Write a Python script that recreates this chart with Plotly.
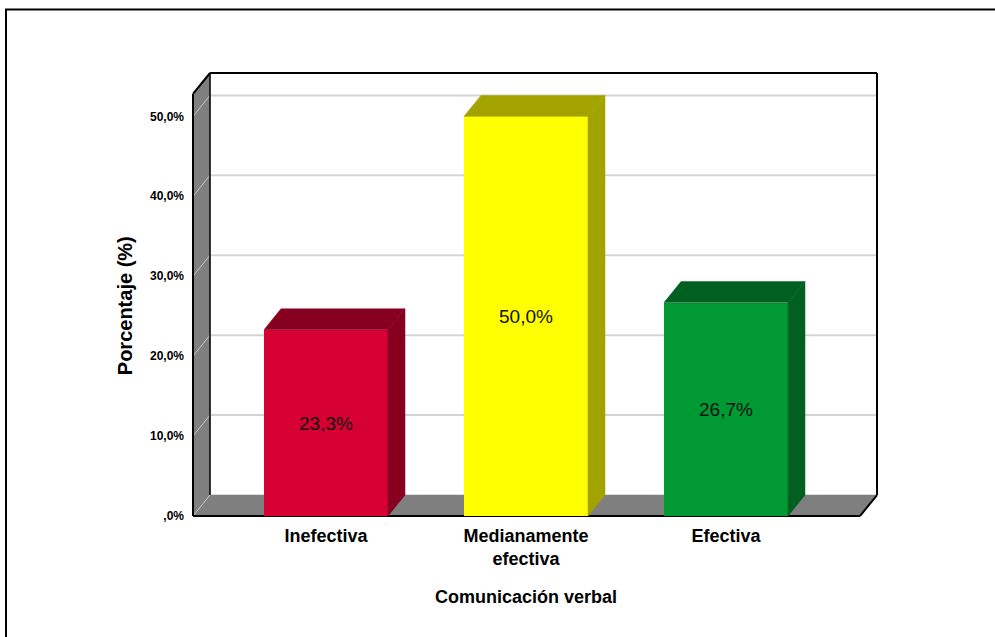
import plotly.graph_objects as go

# ---- data ----
categories = ["Inefectiva", "Medianamente<br>efectiva", "Efectiva"]
values = [23.3, 50.0, 26.7]
value_labels = ["23,3%", "50,0%", "26,7%"]
y_tickvals = [0, 10, 20, 30, 40, 50]
y_ticktext = [",0%", "10,0%", "20,0%", "30,0%", "40,0%", "50,0%"]
front_colors = ["#d60032", "#ffff00", "#009933"]
dark_colors = ["#870020", "#a3a300", "#006022"]

# ---- 3D box geometry (data units) ----
BAR_W = 0.62
DX = 0.085      # depth offset in x
DY = 2.625      # depth offset in y (%)
X0F = -0.665    # front-left edge
X1F = 2.67      # front-right edge
HT = 52.8       # wall top at front plane
WALL = "#7f7f7f"
GRID = "#d4d4d4"

fig = go.Figure()
shapes = []

def path_of(xs, ys):
    return "M " + " L ".join(f"{x},{y}" for x, y in zip(xs, ys)) + " Z"

def poly_shape(xs, ys, fill):
    shapes.append(dict(type="path", xref="x", yref="y", path=path_of(xs, ys),
                       fillcolor=fill, line=dict(color=fill, width=0.5), layer="below"))

def line_shape(x0, y0, x1, y1, color, w):
    shapes.append(dict(type="line", xref="x", yref="y", x0=x0, y0=y0, x1=x1, y1=y1,
                       line=dict(color=color, width=w), layer="below"))

# back wall (white)
poly_shape([X0F + DX, X1F + DX, X1F + DX, X0F + DX], [DY, DY, HT + DY, HT + DY], "white")
# left side wall
poly_shape([X0F, X0F, X0F + DX, X0F + DX], [0, HT, HT + DY, DY], WALL)
# floor
poly_shape([X0F, X1F, X1F + DX, X0F + DX], [0, 0, DY, DY], WALL)

# gridlines on back wall and side wall
for v in y_tickvals:
    if v > 0:
        line_shape(X0F + DX, v + DY, X1F + DX, v + DY, GRID, 2)
    line_shape(X0F, v, X0F + DX, v + DY, "#c8c8c8", 1)

# frame outlines
line_shape(X0F, 0, X0F, HT, "black", 2)
line_shape(X0F, HT, X0F + DX, HT + DY, "black", 2)
line_shape(X0F + DX, HT + DY, X1F + DX, HT + DY, "black", 2)
line_shape(X1F + DX, HT + DY, X1F + DX, DY, "black", 2)
line_shape(X0F + DX, DY, X0F + DX, HT + DY, "black", 1.5)
line_shape(X0F, 0, X1F, 0, "black", 2)
line_shape(X1F, 0, X1F + DX, DY, "black", 2)

# bars: front faces
fig.add_trace(go.Bar(
    x=list(range(len(categories))), y=values, width=BAR_W,
    marker=dict(color=front_colors, line=dict(width=0)),
    text=value_labels, textposition="inside", insidetextanchor="middle",
    textangle=0,
    textfont=dict(family="Liberation Sans, Arial, sans-serif", size=19, color="#111111"),
    hoverinfo="skip", showlegend=False))

# bars: side and top faces
for i, v in enumerate(values):
    xl, xr = i - BAR_W / 2, i + BAR_W / 2
    for xs, ys in (([xr, xr + DX, xr + DX, xr], [0, DY, v + DY, v]),
                   ([xl, xr, xr + DX, xl + DX], [v, v, v + DY, v + DY])):
        fig.add_trace(go.Scatter(
            x=xs + [xs[0]], y=ys + [ys[0]], mode="lines", fill="toself",
            fillcolor=dark_colors[i], line=dict(color=dark_colors[i], width=0.5),
            hoverinfo="skip", showlegend=False))

XMIN, XMAX = X0F - 0.02, X1F + DX + 0.02
YMIN, YMAX = -0.5, HT + DY + 0.5
PXU, PYU = 200.0, 8.0
left = 193 - 0.02 * PXU
plot_w = (XMAX - XMIN) * PXU
right = 995 - left - plot_w
top = 516 - (HT + DY) * PYU - 0.5 * PYU
plot_h = (YMAX - YMIN) * PYU
bottom = 637 - top - plot_h
base_px = 516 + 0.5 * PYU  # pixel row of paper y=0

shapes.append(dict(type="rect", xref="paper", yref="paper",
                   x0=(6 - left) / plot_w, x1=(1100 - left) / plot_w,
                   y0=-(700 - base_px) / plot_h, y1=(base_px - 9) / plot_h,
                   line=dict(color="black", width=2), fillcolor="rgba(0,0,0,0)",
                   layer="above"))

fig.update_layout(
    width=995, height=637, autosize=False,
    margin=dict(l=left, r=right, t=top, b=bottom, pad=0),
    paper_bgcolor="white", plot_bgcolor="white",
    bargap=0, showlegend=False,
    font=dict(family="Liberation Sans, Arial, sans-serif", color="black"),
    xaxis=dict(range=[XMIN, XMAX], showgrid=False, zeroline=False, showline=False,
               tickvals=list(range(len(categories))), ticktext=categories,
               ticks="", tickfont=dict(size=18, color="black", weight="bold"),
               ticklabelstandoff=3, fixedrange=True),
    yaxis=dict(range=[YMIN, YMAX], showgrid=False, zeroline=False, showline=False,
               tickvals=y_tickvals, ticktext=y_ticktext, ticks="",
               tickfont=dict(family="Liberation Sans Narrow, Arial Narrow, Liberation Sans, Arial",
                             size=12, color="black", weight="bold"),
               ticklabelstandoff=4, fixedrange=True),
    annotations=[
        dict(text="Comunicación verbal", xref="paper", yref="paper",
             x=(526 - left) / plot_w, y=-(597 - base_px) / plot_h,
             showarrow=False, font=dict(size=18, weight="bold"),
             xanchor="center", yanchor="middle"),
        dict(text="Porcentaje (%)", xref="paper", yref="paper",
             x=(125 - left) / plot_w, y=(base_px - 306) / plot_h,
             showarrow=False, textangle=-90, font=dict(size=20, weight="bold"),
             xanchor="center", yanchor="middle"),
    ],
    shapes=shapes,
)

fig.write_html("out.html")
